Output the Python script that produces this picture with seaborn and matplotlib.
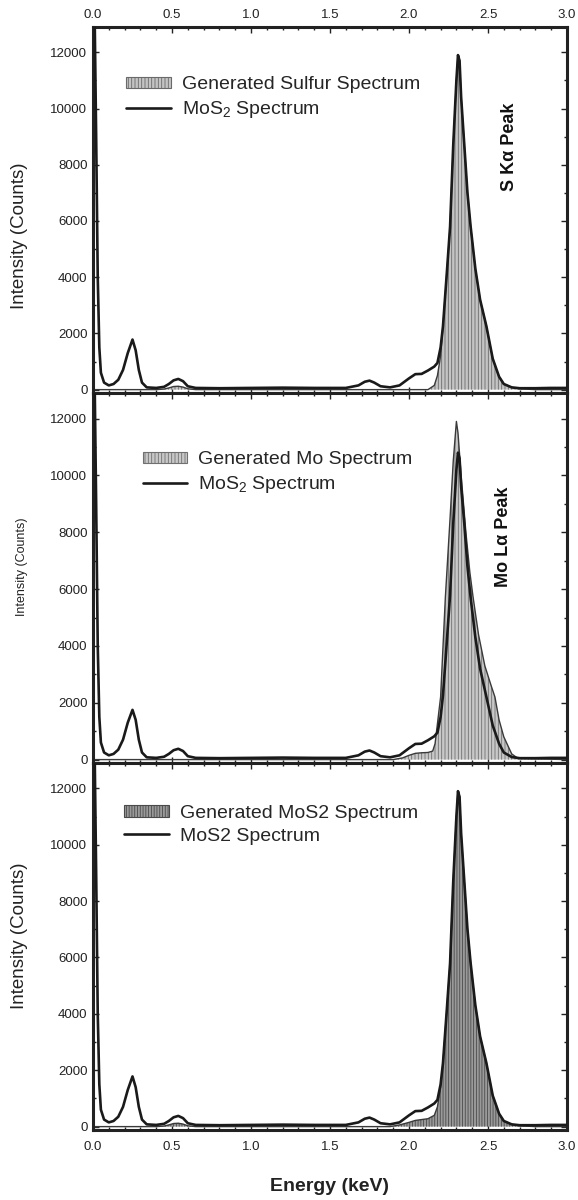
import numpy as np
import pandas as pd
import matplotlib
matplotlib.use("Agg")
import matplotlib.pyplot as plt
import seaborn as sns
from matplotlib.patches import Patch
from matplotlib.lines import Line2D
from matplotlib.ticker import MultipleLocator

# ---------------- data ----------------
energy = [0.00, 0.01, 0.02, 0.03, 0.04, 0.05, 0.07, 0.10, 0.13, 0.16, 0.19, 0.22,
          0.25, 0.27, 0.29, 0.31, 0.34, 0.40, 0.45, 0.48, 0.51, 0.54, 0.57, 0.60,
          0.65, 0.80, 1.00, 1.20, 1.40, 1.60, 1.68, 1.72, 1.75, 1.78, 1.82, 1.88,
          1.94, 2.00, 2.04, 2.08, 2.12, 2.16, 2.18, 2.20, 2.215, 2.24, 2.26, 2.28,
          2.30, 2.31, 2.32, 2.33, 2.35, 2.37, 2.39, 2.42, 2.45, 2.49, 2.53, 2.57,
          2.60, 2.65, 2.70, 2.80, 2.90, 3.00]

mos2_spectrum = [13500, 13500, 9000, 4000, 1500, 600, 250, 150, 200, 350, 700, 1300,
                 1780, 1400, 700, 250, 80, 60, 100, 200, 330, 380, 300, 120,
                 60, 50, 60, 70, 60, 60, 150, 280, 320, 250, 120, 80,
                 150, 400, 550, 560, 680, 820, 950, 1500, 2250, 4200, 5800, 8700,
                 11000, 11900, 11700, 10400, 8700, 7000, 5800, 4300, 3200, 2250, 1100, 460,
                 200, 80, 50, 50, 60, 60]

sulfur_generated = [0, 0, 0, 0, 0, 0, 0, 0, 0, 0, 0, 0,
                    0, 0, 0, 0, 0, 0, 20, 60, 110, 120, 90, 30,
                    0, 0, 0, 0, 0, 0, 0, 0, 0, 0, 0, 0,
                    0, 0, 0, 0, 0, 150, 500, 1200, 2250, 4200, 5800, 8700,
                    11000, 11900, 11700, 10400, 8700, 7000, 5800, 4300, 3200, 2250, 1100, 460,
                    200, 80, 30, 0, 0, 0]

mo_energy = [0.00, 1.90, 1.96, 2.00, 2.04, 2.08, 2.12, 2.15, 2.165, 2.20, 2.23, 2.26,
             2.28, 2.30, 2.31, 2.33, 2.36, 2.385, 2.405, 2.44, 2.48, 2.52, 2.544,
             2.57, 2.60, 2.62, 2.65, 2.69, 3.00]
mo_generated = [0, 0, 60, 150, 220, 240, 250, 300, 560, 2200, 5700, 8500,
                10500, 11900, 11500, 10000, 8000, 6600, 5740, 4400, 3300, 2600, 2200,
                1400, 800, 560, 200, 40, 0]

mos2_spectrum_mid = [13500, 13500, 9000, 4000, 1500, 600, 250, 150, 200, 350, 700, 1300,
                     1750, 1400, 700, 250, 80, 60, 100, 200, 330, 380, 300, 120,
                     60, 50, 60, 70, 60, 60, 150, 280, 320, 250, 120, 80,
                     150, 400, 550, 560, 680, 820, 950, 1500, 2250, 4200, 5800, 8300,
                     10200, 10800, 10600, 9600, 8300, 6800, 5700, 4300, 3200, 2200, 1200, 560,
                     250, 90, 50, 50, 60, 60]

mos2_generated = [0, 0, 0, 0, 0, 0, 0, 0, 0, 0, 0, 0,
                  0, 0, 0, 0, 0, 0, 20, 60, 110, 120, 90, 30,
                  0, 0, 0, 0, 0, 0, 0, 0, 0, 0, 0, 0,
                  60, 150, 220, 250, 280, 400, 700, 1400, 2250, 4200, 5800, 8700,
                  11000, 11900, 11700, 10400, 8700, 7000, 5800, 4300, 3200, 2250, 1100, 460,
                  200, 80, 30, 0, 0, 0]

x_ticks = [0.0, 0.5, 1.0, 1.5, 2.0, 2.5, 3.0]
y_ticks = [0, 2000, 4000, 6000, 8000, 10000, 12000]

legend_labels = [["Generated Sulfur Spectrum", "MoS$_2$ Spectrum"],
                 ["Generated Mo Spectrum", "MoS$_2$ Spectrum"],
                 ["Generated MoS2 Spectrum", "MoS2 Spectrum"]]
peak_labels = ["S Kα Peak", "Mo Lα Peak", None]

# ---------------- styling ----------------
sns.set_style("ticks")
plt.rcParams['font.family'] = ['Liberation Sans', 'DejaVu Sans']
plt.rcParams['mathtext.fontset'] = 'custom'
plt.rcParams['mathtext.rm'] = 'Liberation Sans'
plt.rcParams['mathtext.it'] = 'Liberation Sans:italic'
plt.rcParams['mathtext.bf'] = 'Liberation Sans:bold'
plt.rcParams['hatch.linewidth'] = 0.6

W, H = 578, 1200
fig = plt.figure(figsize=(W / 100, H / 100), dpi=100)
fig.patch.set_facecolor("white")

left_px, right_px = 93, 567
panel_edges = [27, 393, 763, 1130]

df_main = pd.DataFrame({"energy": energy, "top": mos2_spectrum, "mid": mos2_spectrum_mid,
                        "s_gen": sulfur_generated, "mos2_gen": mos2_generated})
df_mo = pd.DataFrame({"energy": mo_energy, "mo_gen": mo_generated})

fills = [
    (df_main["energy"], df_main["s_gen"], "#c4c4c4", "#6a6a6a", "|||||"),
    (df_mo["energy"], df_mo["mo_gen"], "#c8c8c8", "#707070", "|||||"),
    (df_main["energy"], df_main["mos2_gen"], "#9a9a9a", "#4a4a4a", "||||||"),
]
lines = [df_main["top"], df_main["mid"], df_main["top"]]
ylabel_sizes = [13.5, 9, 13.5]
ylabel_y = [0.43, 0.53, 0.53]
legend_pos = [(0.07, 0.865), (0.105, 0.842), (0.066, 0.886)]
peak_xy = [(0.878, 0.672), (0.866, 0.611)]

for i in range(3):
    top, bot = panel_edges[i], panel_edges[i + 1]
    ax = fig.add_axes([left_px / W, 1 - bot / H, (right_px - left_px) / W, (bot - top) / H])
    xs, ys, fc, hc, hatch = fills[i]
    ax.fill_between(xs, 0, ys, facecolor=fc, edgecolor=hc, hatch=hatch, linewidth=0, zorder=1)
    sns.lineplot(x=xs, y=ys, ax=ax, color="#3a3a3a", linewidth=1.0, zorder=2)
    sns.lineplot(x=df_main["energy"], y=lines[i], ax=ax, color="#1a1a1a", linewidth=1.9, zorder=3)

    ax.set_xlim(0, 3.0)
    ax.set_ylim(-120, 12900)
    ax.set_xticks(x_ticks)
    ax.xaxis.set_minor_locator(MultipleLocator(0.1))
    ax.set_yticks(y_ticks)
    ax.yaxis.set_minor_locator(MultipleLocator(1000))
    ax.tick_params(which="both", direction="in", top=True, right=True, width=1.0,
                   labelsize=9.5, colors="#222222")
    ax.tick_params(which="major", length=4, pad=4)
    ax.tick_params(which="minor", length=2)
    ax.set_yticklabels([str(v) for v in y_ticks])
    for s in ax.spines.values():
        s.set_linewidth(2.2)
        s.set_color("#222222")
    ax.set_xlabel("")
    ax.set_ylabel("Intensity (Counts)", fontsize=ylabel_sizes[i], color="#222222")
    ax.yaxis.set_label_coords(-0.138, ylabel_y[i])

    if i == 0:
        ax.tick_params(axis="x", labeltop=True, labelbottom=False, pad=4)
        ax.set_xticklabels([f"{v:.1f}" for v in x_ticks])
    elif i == 1:
        ax.tick_params(axis="x", labeltop=False, labelbottom=False)
    else:
        ax.tick_params(axis="x", pad=8)
        ax.set_xticklabels([f"{v:.1f}" for v in x_ticks])
        ax.set_xlabel("Energy (keV)", fontsize=14, fontweight="bold", color="#222222", labelpad=18)

    handles = [Patch(facecolor=fc, edgecolor=hc, hatch=hatch, linewidth=0.8),
               Line2D([0], [0], color="#1a1a1a", linewidth=1.9)]
    ax.legend(handles, legend_labels[i], loc="upper left", bbox_to_anchor=legend_pos[i],
              frameon=False, fontsize=14, handlelength=2.3, handleheight=0.55,
              handletextpad=0.55, labelspacing=0.3, borderaxespad=0, borderpad=0)
    if peak_labels[i]:
        px, py = peak_xy[i]
        ax.text(px, py, peak_labels[i], transform=ax.transAxes,
                rotation=90, ha="center", va="center", fontsize=13, fontweight="bold",
                color="#111111")

fig.savefig("out.png", dpi=100, facecolor="white")
